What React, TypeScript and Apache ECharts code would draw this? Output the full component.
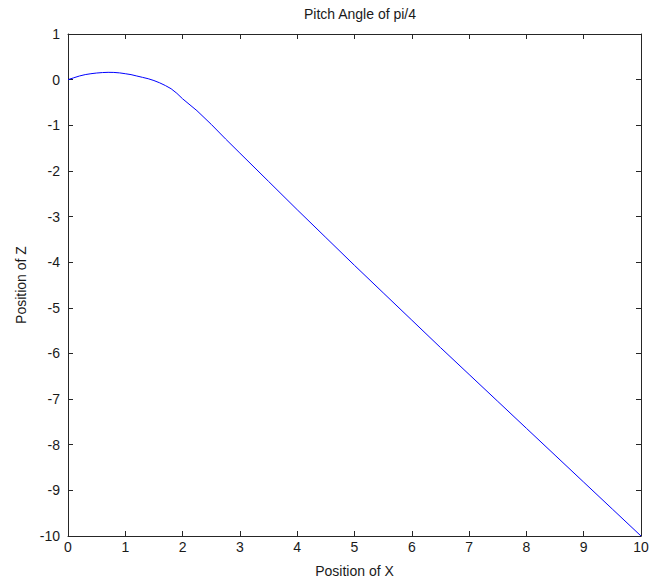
import React, { useEffect, useRef } from "react";
import * as echarts from "echarts";

// Trajectory of the projectile launched at a pitch of pi/4
const xPos: number[] = [
  0, 0.1, 0.2, 0.3, 0.4, 0.5, 0.6, 0.7, 0.8, 0.9, 1.0, 1.1, 1.2, 1.3, 1.4,
  1.5, 1.6, 1.7, 1.8, 1.9, 2.0, 2.25, 2.5, 2.75, 3.0, 3.5, 4.0, 4.5, 5.0,
  5.5, 6.0, 6.5, 7.0, 7.5, 8.0, 8.5, 9.0, 9.5, 10.0,
];
const zPos: number[] = [
  0, 0.04, 0.08, 0.11, 0.13, 0.145, 0.155, 0.16, 0.158, 0.148, 0.13, 0.11,
  0.08, 0.05, 0.02, -0.02, -0.07, -0.13, -0.2, -0.3, -0.42, -0.68, -0.98,
  -1.3, -1.61, -2.23, -2.85, -3.46, -4.07, -4.67, -5.27, -5.87, -6.46, -7.05,
  -7.64, -8.23, -8.82, -9.41, -10.0,
];

const xTicks = { min: 0, max: 10, interval: 1 };
const zTicks = { min: -10, max: 1, interval: 1 };

const FONT = "'Liberation Sans', Arial, sans-serif";
const AXIS_COLOR = "#262626";
const TEXT_COLOR = "#1a1a1a";

export default function App() {
  const ref = useRef<HTMLDivElement>(null);

  useEffect(() => {
    if (!ref.current) return;
    const chart = echarts.init(ref.current, undefined, { renderer: "svg" });

    const baseAxis = {
      axisLine: { show: true, onZero: false, lineStyle: { color: AXIS_COLOR, width: 1 } },
      axisTick: { show: true, inside: true, length: 5, lineStyle: { color: AXIS_COLOR } },
      splitLine: { show: false },
      axisLabel: { color: TEXT_COLOR, fontSize: 14, fontFamily: FONT },
    };

    chart.setOption({
      animation: false,
      backgroundColor: "#fff",
      textStyle: { fontFamily: FONT },
      title: {
        text: "Pitch Angle of pi/4",
        left: 355,
        textAlign: "center",
        top: 2,
        textStyle: { fontSize: 14, fontWeight: "normal", color: TEXT_COLOR, fontFamily: FONT },
      },
      grid: { left: 68, right: 11, top: 34, bottom: 49 },
      xAxis: [
        {
          ...baseAxis,
          type: "value",
          position: "bottom",
          ...xTicks,
          name: "Position of X",
          nameLocation: "middle",
          nameGap: 28,
          nameTextStyle: { fontSize: 14, color: TEXT_COLOR, fontFamily: FONT },
          axisLabel: { ...baseAxis.axisLabel, margin: 4 },
        },
        {
          ...baseAxis,
          type: "value",
          position: "top",
          ...xTicks,
          axisLabel: { show: false },
        },
      ],
      yAxis: [
        {
          ...baseAxis,
          type: "value",
          position: "left",
          ...zTicks,
          name: "Position of Z",
          nameLocation: "middle",
          nameGap: 40,
          nameTextStyle: { fontSize: 14, color: TEXT_COLOR, fontFamily: FONT },
          axisLabel: { ...baseAxis.axisLabel, margin: 8 },
        },
        {
          ...baseAxis,
          type: "value",
          position: "right",
          ...zTicks,
          axisLabel: { show: false },
        },
      ],
      series: [
        {
          type: "line",
          data: xPos.map((x, i) => [x, zPos[i]]),
          showSymbol: false,
          lineStyle: { color: "#0000ff", width: 1 },
          xAxisIndex: 0,
          yAxisIndex: 0,
        },
      ],
    });

    return () => chart.dispose();
  }, []);

  return <div ref={ref} style={{ width: 652, height: 585, position: "absolute", left: 0, top: 0 }} />;
}
